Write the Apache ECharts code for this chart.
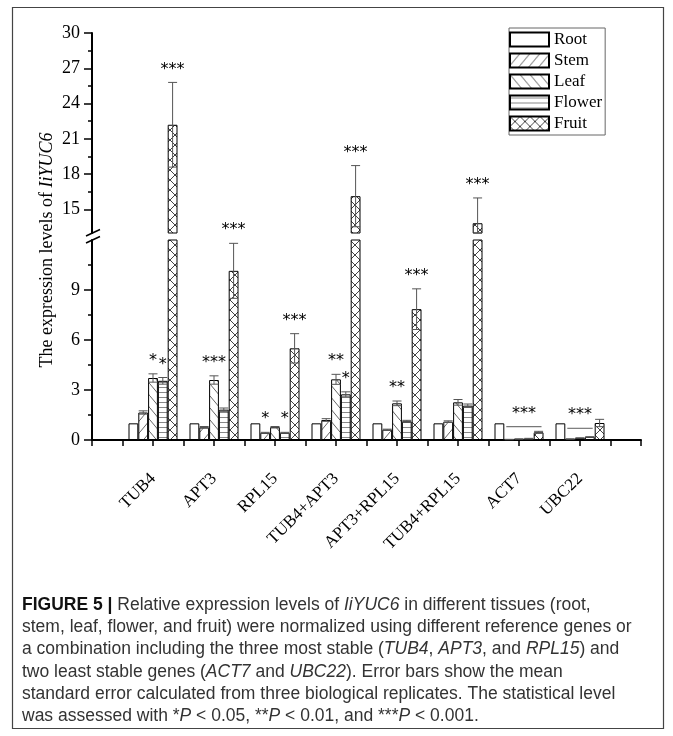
<!DOCTYPE html>
<html><head><meta charset="utf-8">
<script src="https://cdn.jsdelivr.net/npm/echarts@6/dist/echarts.min.js"></script>
<style>html,body{margin:0;padding:0;background:#fff}#c{width:673px;height:736px}</style>
</head><body><div id="c"></div>
<script>
// ---------------- data ----------------
const genes = ['TUB4','APT3','RPL15','TUB4+APT3','APT3+RPL15','TUB4+RPL15','ACT7','UBC22'];
const tissues = ['Root','Stem','Leaf','Flower','Fruit'];
const root   = [1.0, 1.0, 1.0, 1.0, 1.0, 1.0, 1.0, 1.0];
const stem   = [1.65, 0.76, 0.43, 1.2, 0.62, 1.1, 0.03, 0.06];
const leaf   = [3.72, 3.6, 0.77, 3.64, 2.2, 2.26, 0.06, 0.12];
const flower = [3.55, 1.82, 0.43, 2.74, 1.12, 2.06, 0.08, 0.18];
const fruit  = [22.2, 10.15, 5.5, 16.13, 7.85, 13.83, 0.46, 1.02];
const rootErr   = [0, 0, 0, 0, 0, 0, 0, 0];
const stemErr   = [0.1, 0.05, 0.03, 0.08, 0.03, 0.05, 0.01, 0.01];
const leafErr   = [0.25, 0.25, 0.04, 0.3, 0.14, 0.17, 0.01, 0.01];
const flowerErr = [0.2, 0.1, 0.03, 0.15, 0.06, 0.1, 0.02, 0.02];
const fruitErr  = [3.6, 1.65, 0.88, 2.6, 1.22, 2.15, 0.06, 0.22];
// significance marks: [geneIndex, tissueIndex, label]
const marks = [[0,2,'*'],[0,3,'*'],[0,4,'***'],[1,2,'***'],[1,4,'***'],[2,1,'*'],[2,3,'*'],[2,4,'***'],
               [3,2,'**'],[3,3,'*'],[3,4,'***'],[4,2,'**'],[4,4,'***'],[5,4,'***']];
// bracket marks: [geneIndex, fromTissue, toTissue, level, label]
const brackets = [[6,1,4,0.8,'***'],[7,1,3,0.7,'***']];
const lowerTicks = [0, 3, 6, 9];
const upperTicks = [15, 18, 21, 24, 27, 30];
const lowerMinor = [1.5, 4.5, 7.5, 10.5];
const upperMinor = [16.5, 19.5, 22.5, 25.5, 28.5];
const lowerRange = [0, 12];
const upperRange = [13, 30];
const yName = 'The expression levels of ';
const yNameItalic = 'IiYUC6';

// ---------------- helpers ----------------
const BAR_W = 9.8;
const SERIF = '"Liberation Serif","Times New Roman",serif';
const values = [root, stem, leaf, flower, fruit];
const errs = [rootErr, stemErr, leafErr, flowerErr, fruitErr];
const cats = [];
for (let k = 0; k <= 18; k++) cats.push('');
const catIdx = i => 2 * (i + 1);
genes.forEach((g, i) => { cats[catIdx(i)] = g; });
function barData(vals) { const d = cats.map(() => '-'); vals.forEach((v, i) => { d[catIdx(i)] = v; }); return d; }

function makePattern(kind) {
  let w = 10, h = 10;
  if (kind === 'stem' || kind === 'leaf') { w = 10; h = 12; }
  if (kind === 'flower') { w = 10; h = 5; }
  const c = document.createElement('canvas'); c.width = w; c.height = h;
  const g = c.getContext('2d');
  g.fillStyle = '#fff'; g.fillRect(0, 0, w, h);
  if (kind === 'root') return '#fff';
  g.lineWidth = 1;
  g.beginPath();
  if (kind === 'stem') { g.strokeStyle = '#666'; g.moveTo(-w, 2 * h); g.lineTo(2 * w, -h); }
  if (kind === 'leaf') { g.strokeStyle = '#666'; g.moveTo(-w, -h); g.lineTo(2 * w, 2 * h); }
  if (kind === 'flower') { g.strokeStyle = '#888'; g.moveTo(0, 2.5); g.lineTo(w, 2.5); }
  if (kind === 'fruit') { g.strokeStyle = '#444'; g.moveTo(0, 0); g.lineTo(w, h); g.moveTo(0, h); g.lineTo(w, 0); }
  g.stroke();
  return { image: c, repeat: 'repeat' };
}
const fills = ['root', 'stem', 'leaf', 'flower', 'fruit'].map(makePattern);

const chart = echarts.init(document.getElementById('c'), null, { renderer: 'canvas' });

const series = [];
[0, 1].forEach(gi => {
  tissues.forEach((t, s) => {
    series.push({
      name: t, type: 'bar', xAxisIndex: gi, yAxisIndex: gi * 2,
      data: barData(values[s]), barWidth: BAR_W, barGap: '0%',
      itemStyle: { color: fills[s], borderColor: '#000', borderWidth: 1 },
      emphasis: { disabled: true }, clip: true
    });
  });
});

function errItems(upper) {
  const arr = [];
  values.forEach((vals, s) => vals.forEach((v, i) => {
    const e = errs[s][i];
    if (e > 0 && (upper === (v > 12))) arr.push([catIdx(i), v, e, s]);
  }));
  return arr;
}
function errRender(lo) {
  return function (params, api) {
    const c = api.coord([api.value(0), api.value(1)]);
    const x = c[0] + (api.value(3) - 2) * BAR_W;
    const yT = api.coord([api.value(0), api.value(1) + api.value(2)])[1];
    const yB = api.coord([api.value(0), Math.max(api.value(1) - api.value(2), lo)])[1];
    const st = { stroke: '#555', lineWidth: 1 };
    return { type: 'group', children: [
      { type: 'line', shape: { x1: x, y1: yT, x2: x, y2: yB }, style: st },
      { type: 'line', shape: { x1: x - 4.5, y1: yT, x2: x + 4.5, y2: yT }, style: st },
      { type: 'line', shape: { x1: x - 4.5, y1: yB, x2: x + 4.5, y2: yB }, style: st }
    ] };
  };
}
series.push({ type: 'custom', xAxisIndex: 0, yAxisIndex: 0, data: errItems(false), renderItem: errRender(lowerRange[0]), z: 5, silent: true });
series.push({ type: 'custom', xAxisIndex: 1, yAxisIndex: 2, data: errItems(true), renderItem: errRender(upperRange[0]), z: 5, silent: true });

function markItems(upper) {
  return marks.filter(m => (values[m[1]][m[0]] > 12) === upper)
    .map(m => [catIdx(m[0]), values[m[1]][m[0]] + errs[m[1]][m[0]], m[1], m[2].length]);
}
function markRender(params, api) {
  const c = api.coord([api.value(0), api.value(1)]);
  const x = c[0] + (api.value(2) - 2) * BAR_W;
  const n = api.value(3);
  return { type: 'text', style: { text: '*'.repeat(n), x: x, y: c[1] - 5, align: 'center', verticalAlign: 'bottom',
    font: '16px "DejaVu Sans", sans-serif', fill: '#000' } };
}
series.push({ type: 'custom', xAxisIndex: 0, yAxisIndex: 0, data: markItems(false), renderItem: markRender, z: 6, silent: true });
series.push({ type: 'custom', xAxisIndex: 1, yAxisIndex: 2, data: markItems(true), renderItem: markRender, z: 6, silent: true });

series.push({
  type: 'custom', xAxisIndex: 0, yAxisIndex: 0, z: 6, silent: true,
  data: brackets.map(b => [catIdx(b[0]), b[3], b[1], b[2], b[4].length]),
  renderItem: function (params, api) {
    const c = api.coord([api.value(0), api.value(1)]);
    const x1 = c[0] + (api.value(2) - 2) * BAR_W - BAR_W / 2 + 2;
    const x2 = c[0] + (api.value(3) - 2) * BAR_W + BAR_W / 2 - 2;
    return { type: 'group', children: [
      { type: 'line', shape: { x1: x1, y1: c[1], x2: x2, y2: c[1] }, style: { stroke: '#777', lineWidth: 1.2 } },
      { type: 'text', style: { text: '*'.repeat(api.value(4)), x: (x1 + x2) / 2, y: c[1] - 5, align: 'center', verticalAlign: 'bottom',
        font: '16px "DejaVu Sans", sans-serif', fill: '#000' } }
    ] };
  }
});

const axisLineStyle = { color: '#000', width: 2 };
const tickStyle = { color: '#000', width: 1.5 };
function yMain(gi, range, ticks) {
  return { gridIndex: gi, type: 'value', position: 'left', min: range[0], max: range[1],
    axisLine: { show: true, lineStyle: axisLineStyle },
    axisTick: { show: true, length: 8, customValues: ticks, lineStyle: tickStyle },
    axisLabel: { customValues: ticks, margin: 12, fontFamily: SERIF, fontSize: 18, color: '#000' },
    splitLine: { show: false } };
}
function yMinor(gi, range, ticks) {
  return { gridIndex: gi, type: 'value', position: 'left', min: range[0], max: range[1],
    axisLine: { show: false },
    axisTick: { show: true, length: 4, customValues: ticks, lineStyle: tickStyle },
    axisLabel: { show: false }, splitLine: { show: false } };
}

chart.setOption({
  animation: false,
  backgroundColor: '#fff',
  grid: [
    { left: 92, top: 240, width: 549, height: 200 },
    { left: 92, top: 33, width: 549, height: 200 }
  ],
  legend: {
    data: tissues, orient: 'vertical', left: 509, top: 28, icon: 'rect',
    itemWidth: 39, itemHeight: 14, itemGap: 4, padding: [3, 3, 3, 0],
    borderColor: '#666', borderWidth: 1,
    textStyle: { fontFamily: SERIF, fontSize: 17, color: '#000' },
    selectedMode: false
  },
  xAxis: [
    { gridIndex: 0, type: 'category', data: cats, boundaryGap: false,
      axisLine: { lineStyle: axisLineStyle },
      axisTick: { show: true, interval: 0, length: 6, lineStyle: tickStyle },
      axisLabel: { interval: 0, rotate: 45, margin: 36, fontFamily: SERIF, fontSize: 17, color: '#000' } },
    { gridIndex: 1, type: 'category', data: cats, boundaryGap: false, show: false }
  ],
  yAxis: [
    yMain(0, lowerRange, lowerTicks), yMinor(0, lowerRange, lowerMinor),
    yMain(1, upperRange, upperTicks), yMinor(1, upperRange, upperMinor)
  ],
  series: series
});

// break marks & texts
const axX = chart.convertToPixel({ xAxisIndex: 0 }, 0);
const yLo = chart.convertToPixel({ yAxisIndex: 0 }, lowerRange[1]);
const yUp = chart.convertToPixel({ yAxisIndex: 2 }, upperRange[0]);
const capFont = '"Liberation Sans",Arial,sans-serif';
const CAP_SIZE = 17.5;
const capLines = [
  '{b|FIGURE 5 |} Relative expression levels of {i|IiYUC6} in different tissues (root,',
  'stem, leaf, flower, and fruit) were normalized using different reference genes or',
  'a combination including the three most stable ({i|TUB4}, {i|APT3}, and {i|RPL15}) and',
  'two least stable genes ({i|ACT7} and {i|UBC22}). Error bars show the mean',
  'standard error calculated from three biological replicates. The statistical level',
  'was assessed with *{i|P} < 0.05, **{i|P} < 0.01, and ***{i|P} < 0.001.'
];
const graphics = [
  { type: 'rect', shape: { x: 12.5, y: 7.5, width: 651, height: 721 }, style: { fill: 'none', stroke: '#444', lineWidth: 1.2 }, silent: true },
  { type: 'line', shape: { x1: axX - 6, y1: yLo + 3, x2: axX + 8, y2: yLo - 3.5 }, style: { stroke: '#000', lineWidth: 1.5 } },
  { type: 'line', shape: { x1: axX - 6, y1: yUp + 3, x2: axX + 8, y2: yUp - 3.5 }, style: { stroke: '#000', lineWidth: 1.5 } },
  { type: 'text', x: 47, y: 250, rotation: Math.PI / 2,
    style: { text: yName + '{i|' + yNameItalic + '}', x: 0, y: 0, align: 'center', verticalAlign: 'middle',
      font: '18px ' + SERIF, fill: '#000',
      rich: { i: { fontFamily: SERIF, fontSize: 18, fontStyle: 'italic', fill: '#000' } } } }
];
capLines.forEach((t, k) => {
  graphics.push({ type: 'text', x: 22, y: 605 + k * 22.3,
    style: { text: t, x: 0, y: 0, align: 'left', verticalAlign: 'middle', font: CAP_SIZE + 'px ' + capFont, fill: '#333',
      rich: { b: { fontFamily: capFont, fontSize: CAP_SIZE, fontWeight: 'bold', fill: '#111' },
              i: { fontFamily: capFont, fontSize: CAP_SIZE, fontStyle: 'italic', fill: '#333' } } } });
});
chart.setOption({ graphic: graphics });
</script>
</body></html>
